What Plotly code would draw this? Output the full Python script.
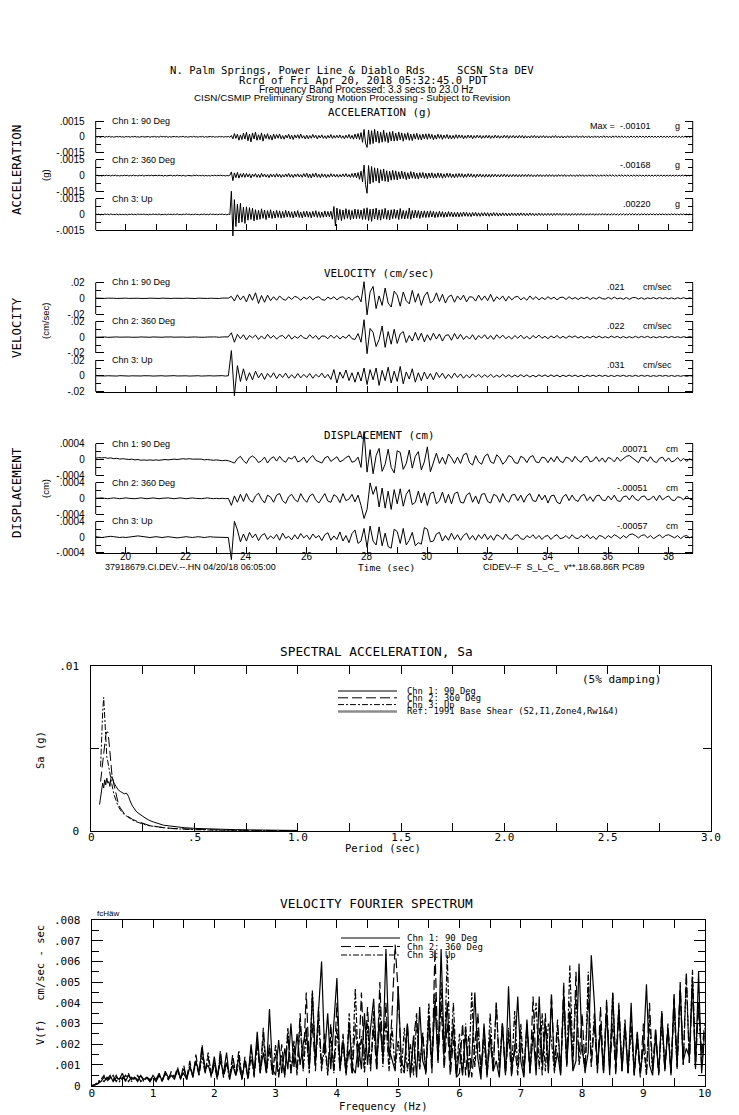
import plotly.graph_objects as go

# ======================= DATA =======================
T_START = 19.0      # s, first sample of the plotted window
ACC_STEP = 0.05     # s, spacing of the digitised acceleration samples
VD_STEP = 0.1       # s, spacing of the digitised velocity / displacement samples

ACC_UNIT = 1e-4     # g  (values below are in 1e-4 g)
acc_ch1 = [0.3,-0.2,0.4,-0.5,0.1,0.3,-0.4,0.2,-0.1,0.5,-0.3,0.2,-0.4,0.1,0.3,-0.2,0.4,-0.3,0.2,-0.5,
           0.4,-0.1,0.2,-0.4,0.3,-0.2,0.5,-0.3,0.1,-0.4,0.2,0.4,-0.3,0.1,-0.2,0.3,-0.5,0.2,-0.1,0.4,
           -0.3,0.2,-0.4,0.5,-0.1,0.3,-0.2,0.4,-0.5,0.2,-0.3,0.1,0.4,-0.2,0.3,-0.4,0.2,-0.1,0.5,-0.3,
           0.2,-0.4,0.1,0.3,-0.3,0.5,-0.2,0.1,-0.4,0.3,-0.1,0.4,-0.5,0.2,-0.3,0.1,0.4,-0.2,0.3,-0.4,
           0.1,-0.3,0.4,-0.2,0.3,-0.4,0.2,-0.1,0.3,-0.5,1.2,-2.0,3.1,-1.5,2.4,-3.2,1.8,-2.6,3.5,-2.2,
           4.2,-3.8,2.5,-4.9,3.6,-2.1,4.4,-3.3,1.9,-2.8,3.7,-4.1,2.2,-1.6,3.0,-2.4,1.5,-3.1,2.6,-1.8,
           2.1,-1.4,2.6,-2.0,1.2,-2.3,1.7,-1.1,2.4,-1.9,1.5,-2.6,1.8,-1.2,2.0,-1.6,2.7,-1.3,1.1,-2.1,
           1.6,-1.9,1.2,-1.4,2.2,-1.0,1.5,-2.0,1.3,-1.1,1.9,-1.5,1.0,-1.8,1.4,-1.2,2.1,-1.6,1.2,-1.3,
           1.5,-1.1,1.8,-1.4,1.0,-1.9,1.6,-1.3,2.2,-1.7,1.4,-2.3,2.6,-1.8,3.1,-2.5,4.0,-5.2,7.0,-6.0,
           -10.1,6.5,-7.2,5.8,-6.4,7.1,-4.9,5.5,-6.0,4.3,-5.1,6.2,-4.4,3.8,-5.6,4.7,-3.9,5.2,-4.1,3.5,
           -3.8,4.6,-2.9,3.7,-4.2,3.1,-2.6,3.9,-3.3,2.5,-3.6,2.8,-2.2,3.4,-2.7,2.1,-3.0,2.6,-1.9,2.8,
           -2.4,2.9,-1.8,2.3,-2.7,1.6,-2.2,2.5,-1.5,2.0,-2.4,1.7,-1.4,2.2,-1.9,1.5,-2.1,1.3,-1.7,2.0,
           -1.5,1.8,-1.2,1.6,-1.9,1.1,-1.4,1.7,-1.2,1.5,-1.8,1.2,-1.3,1.6,-1.0,1.4,-1.6,1.1,-1.3,1.5,
           -1.2,1.4,-1.5,1.0,-1.3,1.6,-1.1,1.2,-1.4,0.9,-1.2,1.5,-1.0,1.3,-1.4,1.1,-0.9,1.3,-1.2,1.0,
           -1.1,1.3,-0.9,1.2,-1.3,1.0,-1.1,0.8,-1.2,1.1,-0.9,1.3,-1.0,0.9,-1.2,1.0,-0.8,1.1,-1.0,0.9,
           -1.0,0.8,-1.1,1.0,-0.8,1.2,-0.9,0.8,-1.0,0.9,-1.1,0.7,-0.9,1.0,-0.8,0.9,-1.0,0.8,-0.7,1.0,
           -0.9,0.8,-0.7,1.0,-0.9,0.7,-0.8,0.9,-1.0,0.7,-0.8,0.9,-0.7,0.8,-0.9,0.7,-0.8,1.0,-0.7,0.8,
           -0.8,0.7,-0.9,0.8,-0.6,0.9,-0.8,0.7,-0.7,0.9,-0.8,0.6,-0.8,0.7,-0.9,0.8,-0.6,0.7,-0.8,0.7,
           -0.7,0.8,-0.6,0.7,-0.8,0.6,-0.7,0.8,-0.6,0.7,-0.7,0.6,-0.8,0.7,-0.6,0.8,-0.7,0.6,-0.7,0.6,
           -0.6,0.7,-0.7,0.6,-0.5,0.7,-0.6,0.5,-0.7,0.6,-0.5,0.6,-0.6,0.5,-0.5,0.4,-0.4]
acc_ch2 = [-0.2,0.4,-0.3,0.1,-0.5,0.3,-0.2,0.4,-0.1,0.2,-0.4,0.3,-0.2,0.5,-0.3,0.1,-0.4,0.2,-0.3,0.4,
           -0.1,0.3,-0.4,0.2,-0.3,0.5,-0.2,0.1,-0.4,0.3,-0.2,0.4,-0.5,0.2,-0.1,0.3,-0.3,0.4,-0.2,0.1,
           0.3,-0.2,0.4,-0.1,0.2,-0.5,0.3,-0.3,0.1,-0.2,0.4,-0.4,0.2,-0.3,0.5,-0.1,0.2,-0.4,0.3,-0.2,
           -0.4,0.2,-0.1,0.3,-0.3,0.4,-0.2,0.5,-0.3,0.1,-0.2,0.3,-0.4,0.2,-0.3,0.1,-0.5,0.3,-0.2,0.4,
           -0.2,0.3,-0.1,0.4,-0.3,0.2,-0.4,0.1,-0.2,0.3,3.5,-4.8,2.6,-2.0,3.1,-2.4,1.8,-1.5,2.2,-1.7,
           2.0,-1.3,1.7,-2.2,1.4,-1.0,1.9,-1.6,1.2,-1.8,2.1,-1.1,1.5,-1.4,1.0,-1.9,1.6,-1.2,1.3,-1.5,
           1.8,-1.2,1.4,-1.7,1.0,-1.3,1.6,-1.1,2.0,-1.5,1.2,-1.8,1.4,-1.0,1.7,-1.3,1.1,-1.6,1.9,-1.2,
           2.3,-1.8,1.5,-2.2,1.9,-1.4,2.5,-1.6,1.3,-2.0,1.7,-1.2,1.4,-1.9,1.1,-1.5,1.8,-1.1,1.3,-1.4,
           1.2,-1.5,1.0,-1.3,1.6,-1.2,1.9,-1.4,1.1,-1.7,2.0,-1.6,2.4,-2.1,2.9,-3.5,4.2,-6.0,10.0,-8.5,
           -16.8,9.5,-7.8,8.6,-6.5,7.4,-5.2,6.9,-7.1,5.6,-4.8,6.3,-5.4,4.6,-5.9,4.1,-4.4,5.0,-3.8,4.5,
           -4.1,3.6,-3.2,4.3,-2.8,3.5,-3.9,2.7,-3.1,3.8,-2.5,3.2,-2.9,2.4,-3.3,2.8,-2.2,3.0,-2.6,2.3,
           -2.8,2.5,-2.0,2.7,-2.4,1.9,-2.3,2.6,-1.8,2.2,-2.5,1.7,-2.0,2.3,-1.6,2.1,-1.9,1.5,-2.2,1.8,
           -1.7,2.0,-1.5,1.8,-1.9,1.4,-1.6,1.9,-1.3,1.7,-1.5,1.2,-1.8,1.4,-1.2,1.6,-1.4,1.1,-1.5,1.3,
           -1.4,1.2,-1.5,1.3,-1.1,1.4,-1.2,1.0,-1.3,1.2,-1.0,1.4,-1.2,1.1,-1.3,0.9,-1.1,1.2,-1.0,1.1,
           -1.2,1.0,-1.1,1.2,-0.9,1.1,-1.0,1.2,-0.9,1.0,-1.1,0.8,-1.0,1.1,-0.9,1.0,-1.0,0.8,-0.9,1.0,
           -0.9,1.0,-0.8,0.9,-1.0,0.8,-0.9,1.0,-0.7,0.9,-0.8,1.0,-0.9,0.7,-0.8,0.9,-0.8,0.7,-0.9,0.8,
           -0.8,0.9,-0.7,0.8,-0.9,0.7,-0.8,0.8,-0.7,0.9,-0.7,0.8,-0.8,0.6,-0.8,0.7,-0.7,0.8,-0.6,0.7,
           -0.7,0.8,-0.6,0.7,-0.7,0.6,-0.8,0.7,-0.6,0.7,-0.7,0.6,-0.6,0.7,-0.7,0.5,-0.6,0.7,-0.6,0.6,
           -0.6,0.7,-0.6,0.5,-0.7,0.6,-0.5,0.6,-0.6,0.5,-0.6,0.6,-0.5,0.6,-0.5,0.6,-0.6,0.5,-0.5,0.6,
           -0.5,0.6,-0.5,0.5,-0.6,0.5,-0.5,0.4,-0.5,0.5,-0.4,0.5,-0.5,0.4,-0.4,0.4,-0.3]
acc_ch3 = [0.4,-0.2,0.3,-0.5,0.2,-0.3,0.4,-0.1,0.3,-0.4,0.5,-0.2,0.1,-0.3,0.4,-0.5,0.2,-0.3,0.1,-0.4,
           0.3,-0.5,0.2,-0.1,0.4,-0.3,0.2,-0.4,0.5,-0.2,0.3,-0.1,0.4,-0.3,0.2,-0.5,0.3,-0.2,0.4,-0.1,
           0.2,-0.3,0.5,-0.4,0.1,-0.2,0.3,-0.5,0.4,-0.1,0.2,-0.3,0.4,-0.2,0.5,-0.3,0.1,-0.4,0.3,-0.2,
           0.5,-0.1,0.3,-0.4,0.2,-0.3,0.4,-0.2,0.1,-0.5,0.3,-0.2,0.4,-0.3,0.2,-0.4,0.5,-0.1,0.3,-0.2,
           0.2,-0.4,0.3,-0.1,0.4,-0.3,0.2,-0.5,0.3,-0.2,22.0,-20.5,14.0,-11.5,9.8,-8.2,10.5,-7.4,6.8,-8.6,
           7.2,-5.5,6.4,-4.8,5.9,-6.1,4.5,-5.2,3.9,-4.6,5.3,-3.7,4.2,-4.9,3.6,-3.3,4.4,-3.9,3.1,-3.5,
           3.8,-2.9,3.4,-3.6,2.7,-3.1,3.9,-2.6,3.2,-2.8,2.5,-3.4,3.0,-2.4,3.6,-2.9,2.3,-3.2,2.8,-2.5,
           3.1,-2.7,2.4,-3.3,2.9,-2.2,3.5,-2.8,2.6,-3.0,2.2,-2.7,3.3,-2.5,2.8,-2.3,3.0,-4.5,7.5,-11.0,
           6.0,-5.2,4.8,-5.9,4.1,-4.6,5.4,-3.8,4.4,-5.0,3.7,-4.3,5.1,-4.0,4.6,-3.9,4.2,-4.8,5.6,-4.7,
           6.3,-5.8,4.9,-6.6,5.2,-4.4,6.0,-4.9,4.3,-5.5,4.7,-3.9,5.8,-4.6,3.9,-5.1,4.4,-4.0,4.9,-3.7,
           4.2,-4.8,5.6,-4.0,3.8,-4.4,3.5,-3.9,6.1,-4.6,3.7,-3.4,4.0,-3.1,3.6,-3.8,3.2,-2.9,3.4,-3.0,
           3.1,-2.8,3.4,-2.5,2.9,-3.1,2.4,-2.7,3.0,-2.2,2.6,-2.8,2.1,-2.5,2.7,-2.0,2.3,-2.4,1.9,-2.2,
           2.1,-2.4,1.8,-2.0,2.3,-1.7,2.0,-1.9,1.6,-2.1,1.8,-1.5,1.9,-1.7,1.5,-1.8,1.6,-1.4,1.7,-1.5,
           1.6,-1.8,1.4,-1.5,1.7,-1.3,1.5,-1.6,1.2,-1.4,1.5,-1.2,1.3,-1.5,1.1,-1.3,1.4,-1.1,1.2,-1.3,
           1.3,-1.2,1.4,-1.0,1.2,-1.3,1.0,-1.2,1.3,-1.0,1.1,-1.2,0.9,-1.1,1.2,-1.0,1.0,-1.1,0.9,-1.0,
           1.1,-1.0,0.9,-1.1,1.0,-0.9,1.1,-0.8,1.0,-1.0,0.9,-0.8,1.0,-0.9,0.8,-1.0,0.9,-0.8,0.9,-0.9,
           0.9,-0.8,1.0,-0.8,0.8,-0.9,0.7,-0.8,0.9,-0.7,0.8,-0.9,0.7,-0.8,0.8,-0.7,0.9,-0.7,0.8,-0.8,
           0.7,-0.8,0.7,-0.6,0.8,-0.7,0.6,-0.8,0.7,-0.6,0.7,-0.7,0.6,-0.7,0.8,-0.6,0.7,-0.6,0.6,-0.7,
           0.6,-0.7,0.6,-0.5,0.7,-0.6,0.5,-0.6,0.7,-0.5,0.6,-0.6,0.5,-0.6,0.6,-0.5,0.6,-0.5,0.5,-0.6,
           0.5,-0.6,0.5,-0.4,0.6,-0.5,0.4,-0.5,0.5,-0.4,0.5,-0.4,0.4,-0.5,0.4,-0.3,0.3]

VEL_UNIT = 1e-3     # cm/sec (values below are in 1e-3 cm/sec)
vel_ch1 = [0.2,-0.2,0.3,-0.1,0.2,-0.3,0.1,-0.2,0.2,-0.1,
           0.2,-0.1,0.2,-0.2,0.1,-0.2,0.3,-0.1,0.2,-0.2,
           0.1,-0.2,0.2,-0.1,0.3,-0.2,0.1,-0.2,0.2,-0.1,
           0.2,-0.2,0.1,-0.3,0.2,-0.1,0.2,-0.2,0.1,-0.2,
           0.2,-0.2,0.3,-0.2,0.2,2.5,-3.5,4.5,-2.0,3.0,
           -4.5,5.5,-2.5,7.0,-6.5,3.5,-5.0,4.0,-3.0,2.0,
           -2.5,3.0,-1.0,-2.5,2.0,-1.5,2.5,1.0,-2.5,1.5,
           -1.0,2.5,-2.0,1.0,2.0,-1.5,-2.5,1.5,-1.0,2.0,
           -2.0,1.0,2.0,-1.5,1.5,-2.5,1.0,3.0,-4.5,21.0,
           -21.0,8.0,15.0,-13.0,3.0,-9.0,13.0,-6.0,-11.0,9.0,
           4.0,-10.0,8.0,-3.0,-7.0,10.0,-5.0,6.0,-9.0,3.0,
           8.0,-6.0,-3.0,7.0,-4.0,5.0,-6.0,2.0,4.0,-5.0,
           3.0,-2.0,4.0,-4.5,2.0,1.5,-3.5,4.0,-2.5,3.0,
           -3.0,5.0,-4.0,2.0,-1.5,3.0,-3.5,2.5,-2.0,1.5,
           2.5,-2.0,1.0,-2.5,3.0,-1.5,2.0,-2.0,1.0,-1.5,
           2.0,-1.0,1.5,-2.0,1.0,1.5,-1.5,2.0,-1.0,1.0,
           -1.5,1.0,-0.5,1.5,-1.5,1.0,-1.0,1.5,-0.5,-1.0,
           1.2,-1.0,1.5,-0.8,0.5,-1.2,1.0,-1.3,0.8,1.0,
           -1.0,0.8,-1.2,0.6,-0.4,1.0,-0.8,1.0,-0.6,0.8,
           -0.8,0.6,-0.9,0.7,-0.5,0.8,-0.6,0.5,-0.4]
vel_ch2 = [-0.2,0.2,-0.1,0.2,-0.3,0.1,-0.2,0.2,-0.1,0.2,
           -0.2,0.1,-0.2,0.3,-0.1,0.2,-0.2,0.1,-0.2,0.2,
           -0.1,0.2,-0.2,0.1,-0.3,0.2,-0.1,0.2,-0.2,0.1,
           -0.2,0.1,-0.2,0.2,-0.1,0.3,-0.2,0.1,-0.2,0.2,
           0.2,-0.3,0.2,-0.2,0.3,5.5,-6.5,3.5,-2.0,3.0,
           -3.5,2.0,-1.0,2.5,-3.0,1.5,-2.5,3.5,-1.5,2.0,
           -2.5,1.0,2.0,-2.0,3.0,-2.5,1.0,-1.5,2.5,-1.0,
           -2.0,3.0,-1.5,2.0,-3.0,1.5,1.0,-2.0,2.5,-1.5,
           2.0,-2.5,1.0,-1.5,3.0,-2.0,-3.0,4.5,-6.5,22.0,
           -21.0,11.0,6.0,-12.0,-3.0,14.0,-13.0,7.0,-9.0,10.0,
           -8.0,4.0,7.0,-7.0,2.0,-5.0,6.0,-4.0,5.0,-6.0,
           3.0,-4.0,5.0,-2.5,4.0,-5.0,2.0,3.0,-4.0,4.5,
           -2.5,3.5,-3.0,1.5,-2.5,3.0,-3.5,2.0,-1.5,3.0,
           -2.5,2.0,-3.0,3.0,-1.5,2.5,-2.0,1.0,-2.5,2.0,
           -1.5,2.5,-2.0,1.0,-2.5,2.0,-1.0,2.5,-1.5,1.0,
           -2.0,1.5,-1.0,2.0,-1.5,1.0,-1.5,1.5,-0.5,1.5,
           -1.2,1.0,-1.5,0.8,-1.0,1.3,-0.8,1.2,-1.0,0.6,
           -1.0,1.2,-0.6,1.0,-1.1,0.8,-1.0,0.6,-0.9,1.0,
           -0.8,0.9,-0.6,1.0,-0.8,0.5,-0.9,0.7,-0.6,0.8,
           -0.7,0.8,-0.6,0.5,-0.7,0.6,-0.5,0.6,-0.4]
vel_ch3 = [0.1,-0.2,0.2,-0.1,0.2,-0.2,0.1,-0.2,0.3,-0.1,
           0.2,-0.2,0.1,-0.2,0.2,-0.1,0.2,-0.3,0.1,-0.2,
           0.2,-0.1,0.2,-0.2,0.1,-0.2,0.3,-0.1,0.2,-0.2,
           0.1,-0.2,0.2,-0.1,0.2,-0.2,0.1,-0.3,0.2,-0.1,
           0.2,-0.2,0.3,-0.2,0.2,32.0,-25.0,13.0,-7.0,9.0,
           -6.0,4.0,-5.0,6.0,-2.5,3.5,-4.5,3.0,-2.0,4.0,
           -3.5,2.5,-2.0,3.5,-3.0,1.5,-3.0,3.0,-2.5,2.0,
           -2.0,3.0,-3.0,2.0,-1.5,3.5,-2.5,2.0,-4.5,8.0,
           -9.0,5.0,-3.0,7.5,-6.0,4.0,-8.0,5.0,-6.5,10.0,
           -11.0,8.0,-5.0,10.0,-12.0,7.0,-6.0,11.0,-9.0,6.0,
           -7.0,12.0,-10.0,5.0,-4.0,9.0,-8.0,4.0,-6.0,5.0,
           -4.0,3.0,-5.0,4.5,-2.0,3.5,-3.5,2.0,-3.0,3.5,
           -2.0,2.5,-3.0,1.5,-2.5,2.5,-1.5,2.0,-2.0,1.5,
           -1.5,2.0,-1.8,1.0,-1.5,2.0,-1.2,1.5,-1.5,1.0,
           -1.2,1.5,-1.0,1.3,-1.5,0.8,-1.2,1.3,-0.8,1.2,
           -1.0,1.2,-0.8,1.0,-1.2,0.9,-0.8,1.0,-0.7,1.0,
           -0.9,0.7,-1.0,0.8,-0.6,0.9,-0.8,0.9,-0.6,0.7,
           -0.8,0.6,-0.8,0.7,-0.5,0.8,-0.7,0.5,-0.6,0.7,
           -0.6,0.7,-0.5,0.6,-0.7,0.4,-0.6,0.6,-0.4,0.6,
           -0.5,0.5,-0.6,0.4,-0.5,0.4,-0.5,0.3,-0.3]

DISP_UNIT = 1e-5    # cm (values below are in 1e-5 cm)
disp_ch1 = [3,5,4,5,3,4,2,3,1,2,
            1,0,1,-1,0,-2,-1,-2,-1,-2,
            -1,-2,-1,0,-1,0,1,0,1,2,
            1,2,1,1,0,1,-1,0,-1,-2,
            -1,-2,-3,-2,-3,-6,-9,2,8,-3,
            -10,4,9,3,-8,-3,6,-9,2,7,
            -4,8,-2,-7,5,1,9,-6,-3,6,
            -8,3,10,-2,-6,-9,4,8,-5,2,
            7,-6,-2,5,9,-7,-4,6,-20,71,
            -32,25,-36,10,28,-30,-12,26,-20,-34,
            22,18,-25,-10,24,-22,8,20,-26,-6,
            32,-31,-8,16,-10,6,-12,14,4,-10,
            6,-10,12,16,-8,-14,10,-6,-12,8,
            14,-6,-10,12,4,-12,-4,10,6,-8,
            -10,8,4,-8,6,10,-6,-8,6,4,
            -8,5,-6,8,-4,-8,6,3,-6,8,
            -2,-7,5,8,-6,-3,7,-5,4,-7,
            5,2,-6,6,-4,3,8,10,4,-3,
            -8,6,4,-5,7,-4,-8,3,6,-5,
            4,-6,-3,5,-4,3,-5,2,-3]
disp_ch2 = [0,1,1,0,-1,0,1,0,-1,0,
            1,0,-1,-1,0,1,0,-1,0,1,
            0,-1,0,1,1,0,-1,0,1,0,
            -1,0,1,0,-1,-1,0,1,0,-1,
            0,-1,0,-1,0,-18,6,-10,10,-8,
            12,-4,-10,6,13,-2,-12,8,3,-10,
            8,12,-6,-13,4,10,-3,-9,12,-2,
            -10,6,11,-4,-12,2,12,-7,-10,9,
            4,-11,12,-6,-2,10,-9,8,-18,-51,
            -28,39,10,30,-22,26,-25,18,-28,22,
            -14,24,-20,10,22,-16,-10,18,-12,14,
            -18,12,16,-14,-6,16,-12,10,-14,12,
            16,-10,-12,8,14,-10,6,-14,10,12,
            -8,-12,10,6,-10,12,-4,-10,8,10,
            -6,8,-10,6,12,-6,-8,10,-4,8,
            -12,6,8,-10,-14,4,10,-6,8,-4,
            -8,6,10,-6,4,-8,6,8,-4,-6,
            6,-4,8,-6,-8,4,6,-4,8,-2,
            -6,4,6,-4,-2,6,-6,8,-4,2,
            6,-4,-6,4,2,-4,6,-2,-4]
disp_ch3 = [1,0,-1,0,1,2,1,0,-1,0,
            -1,0,1,2,3,2,1,0,-1,0,
            1,0,-1,0,1,0,-1,-2,-1,0,
            1,0,-1,0,1,0,-1,0,1,0,
            0,-1,0,0,-1,-57,40,18,-12,8,
            -10,12,-2,8,-9,4,9,-6,3,-4,
            7,-8,10,-3,2,-7,6,-5,9,-2,
            5,-6,8,-2,4,-9,6,11,-8,3,
            -6,13,-10,4,-14,9,18,-16,-10,22,
            -26,28,-10,-20,26,-22,10,-24,-28,20,
            14,-16,22,-20,-8,12,-22,-14,-18,24,
            20,-12,-10,8,12,-10,4,-8,10,-6,
            6,-8,4,10,-6,4,-8,6,-4,8,
            -6,4,-8,6,2,-6,8,-4,-6,4,
            6,-4,-6,4,-2,6,-4,4,-6,2,
            4,-6,2,6,-4,-2,4,-4,6,-2,
            -4,4,-2,6,-4,2,-6,4,2,-4,
            4,-2,6,2,-4,4,-2,6,8,4,
            -2,4,6,-2,4,-4,2,6,-2,4,
            6,2,-2,4,-4,2,4,-2,2]

channel_names = ["Chn 1: 90 Deg", "Chn 2: 360 Deg", "Chn 3: Up"]
acc_max_text = ["-.00101", "-.00168", ".00220"]
vel_max_text = [".021", ".022", ".031"]
disp_max_text = [".00071", "-.00051", "-.00057"]
time_tick_labels = [20, 22, 24, 26, 28, 30, 32, 34, 36, 38]

# Spectral acceleration, 5% damping (Sa in 1e-3 g)
SA_UNIT = 1e-3
sa_period = [0.04,0.045,0.05,0.055,0.06,0.065,0.07,0.075,0.08,0.085,0.09,0.095,
             0.10,0.11,0.12,0.13,0.14,0.15,0.16,0.17,0.18,0.19,0.20,0.22,0.24,
             0.26,0.28,0.30,0.35,0.40,0.45,0.50,0.60,0.70,0.80,0.90,1.00]
sa_ch1 = [1.6,2.0,2.4,2.9,2.6,3.1,2.8,3.2,2.9,3.0,2.7,3.2,
          3.3,2.9,2.7,2.5,2.4,2.3,2.25,2.3,2.1,1.75,1.5,1.15,0.95,
          0.8,0.65,0.55,0.35,0.26,0.2,0.16,0.11,0.08,0.06,0.045,0.035]
sa_ch2 = [None,3.0,3.6,4.4,5.0,5.4,5.8,6.0,6.0,5.5,4.8,4.0,
          3.4,2.8,2.2,1.7,1.4,1.2,1.05,0.95,0.85,0.75,0.7,0.6,0.5,
          0.4,0.34,0.3,0.2,0.15,0.12,0.1,0.07,0.05,0.03,0.02,0.015]
sa_ch3 = [None,3.9,5.8,7.2,8.1,7.0,5.5,4.5,4.2,3.8,3.5,3.2,
          2.8,2.2,1.8,1.5,1.3,1.1,1.0,0.9,0.8,0.7,0.65,0.55,0.45,
          0.38,0.32,0.28,0.2,0.14,0.1,0.08,0.05,0.04,0.03,0.02,0.01]
sa_legend = ["Chn 1: 90 Deg", "Chn 2: 360 Deg", "Chn 3: Up",
             "Ref: 1991 Base Shear (S2,I1,Zone4,Rw1&4)"]

# Velocity Fourier spectrum (values in 1e-4 cm/sec-sec), 0..10 Hz
FS_UNIT = 1e-4
F_STEP = 0.05
fs_ch1 = [0,0.5,1,2,4,3,5,2,4,3,6,2,5,3,4,2,5,3,4,2,
          5,3,6,2,7,4,5,3,8,4,6,3,9,5,12,6,18,8,10,5,
          14,4,12,6,16,3,10,5,14,3,12,4,20,6,26,7,16,6,37,8,
          5,22,6,18,8,30,9,25,10,20,28,8,45,12,38,60,15,35,8,28,
          52,8,22,6,30,9,6,20,8,35,10,28,42,12,30,14,66,18,12,7,
          48,12,8,30,5,24,4,38,12,7,34,10,40,12,66,16,40,10,30,4,
          18,5,26,4,12,45,13,3,30,6,25,7,12,4,30,5,48,9,16,43,
          12,4,32,7,26,5,43,10,30,6,42,8,16,5,45,10,35,7,12,59,
          18,7,16,63,40,8,28,6,36,5,45,9,38,7,30,6,40,5,26,7,
          18,49,10,5,24,6,36,8,28,5,42,10,48,12,18,14,52,8,55,6,
          25]
fs_ch2 = [0,0.3,1,3,2,4,3,5,2,4,3,5,2,4,3,5,2,3,4,2,
          4,2,5,3,6,3,7,4,9,3,10,3,12,4,15,5,20,6,14,4,
          10,3,17,4,12,4,15,5,10,3,14,4,18,4,22,6,28,7,20,5,
          15,4,20,5,25,6,18,7,35,8,45,10,30,7,38,9,25,6,30,7,
          40,8,25,6,18,5,30,8,45,10,38,9,28,7,50,12,40,10,35,68,
          45,10,6,30,4,22,35,8,25,5,30,6,66,12,40,8,30,5,22,4,
          6,30,5,24,4,20,35,6,28,5,22,7,40,9,30,6,25,4,20,5,
          25,5,30,6,43,8,28,5,35,7,45,9,32,6,50,10,40,8,55,12,
          35,8,45,9,30,6,38,7,42,8,30,5,36,7,28,6,34,5,22,4,
          30,6,40,8,28,5,36,7,30,6,45,9,50,10,55,11,48,9,40,15,
          30]
fs_ch3 = [0,0.4,2,3,5,2,4,3,5,2,4,3,6,2,4,3,5,2,4,3,
          4,3,5,2,6,3,5,4,7,3,8,4,10,4,12,5,14,6,16,5,
          12,4,15,4,11,3,13,5,17,4,12,3,14,5,20,6,24,6,18,5,
          20,5,15,4,28,6,22,5,30,7,25,6,46,10,32,7,20,5,24,6,
          28,7,20,5,35,8,47,9,24,6,30,7,36,8,40,9,32,7,28,8,
          22,6,28,7,20,5,32,8,26,6,40,9,45,11,50,10,63,12,40,8,
          25,6,30,7,45,9,28,6,22,4,35,8,40,7,30,6,28,7,36,8,
          30,7,28,6,25,40,8,35,7,30,22,6,28,7,40,9,58,12,45,10,
          20,6,55,11,35,8,30,7,38,8,45,9,40,8,32,6,28,7,25,6,
          20,5,32,7,25,6,30,8,28,7,38,8,45,10,52,11,56,12,40,9,
          28]
fs_legend = ["Chn 1: 90 Deg", "Chn 2: 360 Deg", "Chn 3: Up"]

# ======================= LAYOUT HELPERS =======================
W, H = 739, 1115
SANS = "Liberation Sans, Arial, sans-serif"
MONO = "DejaVu Sans Mono, Liberation Mono, monospace"


def fx(px):
    return px / W


def fy(py):
    return 1 - py / H


fig = go.Figure()
layout = dict(
    width=W, height=H, autosize=False,
    margin=dict(l=0, r=0, t=0, b=0),
    paper_bgcolor="white", plot_bgcolor="rgba(0,0,0,0)",
    template="none", showlegend=False, hovermode=False,
    font=dict(family=SANS, size=10, color="black"),
)
annotations = []
shapes = []


def text(x, y, s, size=10, xanchor="center", yanchor="middle", angle=0, family=SANS,
         xref="paper"):
    annotations.append(dict(x=fx(x) if xref == "paper" else x, y=fy(y), xref=xref,
                            yref="paper", text=s, showarrow=False, xanchor=xanchor,
                            yanchor=yanchor, textangle=angle,
                            font=dict(family=family, size=size, color="black")))


def ax_ref(name, n):
    return name if n == 1 else f"{name}{n}"


# ---------------- seismogram groups ----------------
SX0, SX1 = 95.7, 692.7       # bracket x positions (px)
HALF = 15.8                  # half height of a channel bracket (px)
SPACING = 38.8               # px between channel zero lines
groups = [
    dict(z0=136.8, b=0.0015, lab=[".0015", "0", "-.0015"], data=[acc_ch1, acc_ch2, acc_ch3],
         step=ACC_STEP, unit=ACC_UNIT, maxt=acc_max_text, ulab="g", vx=653, ux=677,
         title="ACCELERATION (g)"),
    dict(z0=298.3, b=0.02, lab=[".02", "0", "-.02"], data=[vel_ch1, vel_ch2, vel_ch3],
         step=VD_STEP, unit=VEL_UNIT, maxt=vel_max_text, ulab="cm/sec", vx=627, ux=657,
         title="VELOCITY (cm/sec)"),
    dict(z0=459.5, b=0.0004, lab=[".0004", "0", "-.0004"], data=[disp_ch1, disp_ch2, disp_ch3],
         step=VD_STEP, unit=DISP_UNIT, maxt=disp_max_text, ulab="cm", vx=650, ux=672,
         title="DISPLACEMENT (cm)"),
]

for g, grp in enumerate(groups):
    xn = g + 1
    b = grp["b"]
    zb = grp["z0"] + 2 * SPACING + HALF
    layout[ax_ref("xaxis", xn)] = dict(
        domain=[fx(SX0), fx(SX1)], range=[T_START, 38.8], anchor="free",
        position=fy(zb), showline=True, linecolor="black", linewidth=1,
        ticks="inside", ticklen=6, tickcolor="black", tick0=20, dtick=2,
        minor=dict(dtick=1, tick0=19, ticks="inside", ticklen=6, tickcolor="black"),
        showgrid=False, zeroline=False, showticklabels=False)
    for c in range(3):
        n = 3 * g + c + 1
        zc = grp["z0"] + c * SPACING
        layout[ax_ref("yaxis", n)] = dict(
            domain=[fy(zc + 2 * HALF), fy(zc - 2 * HALF)], range=[-2 * b, 2 * b],
            anchor=ax_ref("x", xn), showline=False, showgrid=False, zeroline=False,
            ticks="inside", ticklen=8, tickcolor="black", mirror="ticks",
            tickmode="array", tickvals=[b, 0, -b], ticktext=grp["lab"],
            ticklabelstandoff=10,
            minor=dict(tickmode="array", tickvals=[b / 2, -b / 2], ticks="inside",
                       ticklen=5, tickcolor="black"),
            tickfont=dict(family=SANS, size=10))
        vals = grp["data"][c]
        t = [round(T_START + grp["step"] * i, 3) for i in range(len(vals))]
        fig.add_trace(go.Scatter(
            x=t, y=[v * grp["unit"] for v in vals], mode="lines",
            line=dict(color="black", width=1),
            xaxis=ax_ref("x", xn), yaxis=ax_ref("y", n), hoverinfo="skip"))
        for sx in (SX0, SX1):
            shapes.append(dict(type="line", xref="paper", yref=ax_ref("y", n),
                               x0=fx(sx), x1=fx(sx), y0=-b, y1=b,
                               line=dict(color="black", width=1)))
        text(110, zc - HALF, channel_names[c], size=9, xanchor="left")
        text(grp["vx"], zc - HALF + 5, grp["maxt"][c], size=9, xanchor="right")
        text(grp["ux"], zc - HALF + 5, grp["ulab"], size=9)
    text(380, grp["z0"] - 24.5, grp["title"], size=10.8, family=MONO)

text(588, groups[0]["z0"] - HALF + 5, "Max =", size=9, xanchor="left")

# time tick labels (bottom of displacement group)
for tv in time_tick_labels:
    text(tv, 556.5, str(tv), size=10, xref="x3")

# side labels
text(16, 170, "ACCELERATION", size=12.5, angle=-90, family=MONO)
text(45, 175, "(g)", size=9.5, angle=-90)
text(16, 328, "VELOCITY", size=12.5, angle=-90, family=MONO)
text(45, 321, "(cm/sec)", size=9.5, angle=-90)
text(16, 493, "DISPLACEMENT", size=12.5, angle=-90, family=MONO)
text(45, 489, "(cm)", size=9.5, angle=-90)

# header
NB = "\u00a0"
text(352, 70, "N. Palm Springs, Power Line & Diablo Rds" + NB * 5 + "SCSN Sta DEV",
     size=10.6, family=MONO)
text(363, 79.5, "Rcrd of Fri Apr 20, 2018 05:32:45.0 PDT", size=10.6, family=MONO)
text(366, 89.5, "Frequency Band Processed: 3.3 secs to 23.0 Hz", size=10)
text(352, 98, "CISN/CSMIP Preliminary Strong Motion Processing - Subject to Revision", size=9.8)

# footer of seismograms
text(386, 567, "Time (sec)", size=9.5, family=MONO)
text(103, 567, "37918679.CI.DEV.--.HN 04/20/18 06:05:00", size=9, xanchor="left")
text(481, 567, "CIDEV--F" + NB * 2 + "S_L_C_" + NB * 2 + "v**.18.68.86R PC89", size=9,
     xanchor="left")

# ---------------- spectral acceleration ----------------
layout["xaxis4"] = dict(
    domain=[fx(91.3), fx(711)], range=[0, 3.0], anchor="y10",
    showline=True, mirror="ticks", linecolor="black", linewidth=1,
    ticks="inside", ticklen=8, tickcolor="black", tickmode="array",
    tickvals=[0, 0.5, 1.0, 1.5, 2.0, 2.5, 3.0],
    ticktext=["0", ".5", "1.0", "1.5", "2.0", "2.5", "3.0"], ticklabelstandoff=-4,
    minor=dict(tickmode="array", tickvals=[0.25, 0.75, 1.25, 1.75, 2.25, 2.75],
               ticks="inside", ticklen=8, tickcolor="black"),
    showgrid=False, zeroline=False, tickfont=dict(family=MONO, size=11))
layout["yaxis10"] = dict(
    domain=[fy(831), fy(666)], range=[0, 0.01], anchor="x4",
    showline=True, mirror="ticks", linecolor="black", linewidth=1,
    ticks="inside", ticklen=8, tickcolor="black", tickmode="array",
    tickvals=[0, 0.01], ticktext=["0", ".01"], ticklabelstandoff=9,
    minor=dict(tickmode="array", tickvals=[0.005], ticks="inside", ticklen=8,
               tickcolor="black"),
    showgrid=False, zeroline=False, tickfont=dict(family=MONO, size=11))

sa_styles = [dict(color="black", width=1, dash="solid"),
             dict(color="black", width=1, dash="10px,4px"),
             dict(color="black", width=1, dash="6px,2px,2px,2px")]
for vals, st in zip([sa_ch1, sa_ch2, sa_ch3], sa_styles):
    fig.add_trace(go.Scatter(
        x=sa_period, y=[None if v is None else v * SA_UNIT for v in vals],
        mode="lines", line=st, xaxis="x4", yaxis="y10", hoverinfo="skip"))

text(376, 651, "SPECTRAL ACCELERATION, Sa", size=12.8, family=MONO)
text(383, 848, "Period (sec)", size=10.5, family=MONO)
text(40, 750, "Sa (g)", size=10.5, angle=-90, family=MONO)
text(621, 679, "(5% damping)", size=11, family=MONO)
sa_leg_styles = sa_styles + [dict(color="#8c8c8c", width=2.5, dash="solid")]
for k, (lab, st) in enumerate(zip(sa_legend, sa_leg_styles)):
    yy = 691 + 6.8 * k
    shapes.append(dict(type="line", xref="paper", yref="paper",
                       x0=fx(338), x1=fx(397), y0=fy(yy), y1=fy(yy), line=st))
    text(405, yy, lab, size=8.8, xanchor="left", family=MONO)

# ---------------- velocity Fourier spectrum ----------------
layout["xaxis5"] = dict(
    domain=[fx(91.7), fx(704.7)], range=[0, 10], anchor="y11",
    showline=True, mirror="ticks", linecolor="black", linewidth=1,
    ticks="inside", ticklen=8, tickcolor="black", tick0=0, dtick=1, ticklabelstandoff=-3,
    minor=dict(dtick=0.5, tick0=0, ticks="inside", ticklen=8, tickcolor="black"),
    showgrid=False, zeroline=False, tickfont=dict(family=MONO, size=11))
layout["yaxis11"] = dict(
    domain=[fy(1085.7), fy(920)], range=[0, 0.008], anchor="x5",
    showline=True, mirror="ticks", linecolor="black", linewidth=1,
    ticks="inside", ticklen=11, tickcolor="black", tickmode="array",
    tickvals=[0, 0.001, 0.002, 0.003, 0.004, 0.005, 0.006, 0.007, 0.008],
    ticktext=["0", ".001", ".002", ".003", ".004", ".005", ".006", ".007", ".008"],
    ticklabelstandoff=8,
    minor=dict(tickmode="array",
               tickvals=[0.0005, 0.0015, 0.0025, 0.0035, 0.0045, 0.0055, 0.0065, 0.0075],
               ticks="inside", ticklen=7, tickcolor="black"),
    showgrid=False, zeroline=False, tickfont=dict(family=MONO, size=11))

fs_styles = [dict(color="black", width=1.2, dash="solid"),
             dict(color="black", width=1.2, dash="10px,4px"),
             dict(color="black", width=1.2, dash="6px,2px,2px,2px")]
for vals, st in zip([fs_ch1, fs_ch2, fs_ch3], fs_styles):
    f = [round(F_STEP * i, 3) for i in range(len(vals))]
    fig.add_trace(go.Scatter(
        x=f, y=[v * FS_UNIT for v in vals], mode="lines", line=st,
        xaxis="x5", yaxis="y11", hoverinfo="skip"))

text(376, 903, "VELOCITY FOURIER SPECTRUM", size=12.8, family=MONO)
text(383, 1106, "Frequency (Hz)", size=10.5, family=MONO)
text(40, 985, "V(f)" + NB * 3 + "cm/sec - sec", size=10.5, angle=-90, family=MONO)
text(95, 913, "fcHäw", size=8, xanchor="left")
for k, (lab, st) in enumerate(zip(fs_legend, fs_styles)):
    yy = 938 + 8.5 * k
    shapes.append(dict(type="line", xref="paper", yref="paper",
                       x0=fx(341), x1=fx(400), y0=fy(yy), y1=fy(yy),
                       line=dict(color="black", width=1, dash=st["dash"])))
    text(405, yy, lab, size=9, xanchor="left", family=MONO)

layout["annotations"] = annotations
layout["shapes"] = shapes
fig.update_layout(**layout)
fig.write_html("out.html", config={"displayModeBar": False},
               post_script="document.body.style.margin='0px';document.body.style.padding='0px';")
